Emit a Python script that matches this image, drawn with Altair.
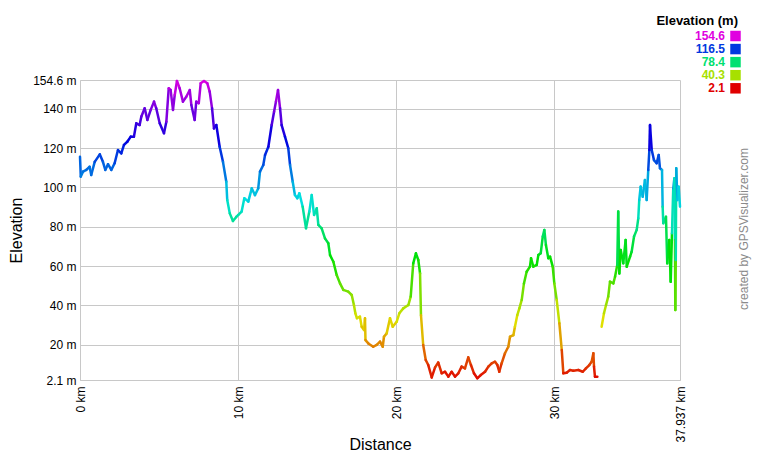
import altair as alt
import pandas as pd

# ---- data ----
SEG1_KM = [0.00, 0.05, 0.19, 0.40, 0.61, 0.71, 0.93, 1.25, 1.45, 1.60, 1.77, 1.98, 2.19, 2.40, 2.61,
           2.78, 2.99, 3.21, 3.41, 3.56, 3.77, 3.88, 4.09, 4.26, 4.47, 4.68, 4.82, 5.04, 5.31, 5.46,
           5.61, 5.73, 5.88, 5.99, 6.13, 6.30, 6.51, 6.72, 6.94, 7.04, 7.25, 7.35, 7.51, 7.63, 7.84,
           8.05, 8.20, 8.35, 8.47, 8.62, 8.83, 9.04, 9.25, 9.31, 9.47, 9.67, 9.88, 10.01, 10.22, 10.39,
           10.64, 10.86, 11.06, 11.27, 11.38, 11.59, 11.70, 11.91, 12.12, 12.27, 12.39, 12.52, 12.65,
           12.75, 12.96, 13.17, 13.28, 13.45, 13.59, 13.74, 13.87, 14.08, 14.29, 14.50, 14.65, 14.80,
           14.97, 15.07, 15.28, 15.49, 15.70, 15.81, 16.02, 16.23, 16.44, 16.65, 16.96, 17.18, 17.32,
           17.41, 17.51, 17.70, 17.81, 17.96, 18.02, 18.05, 18.23, 18.54, 18.76, 18.97, 19.14, 19.22,
           19.39, 19.60, 19.77, 20.02, 20.19, 20.44, 20.76, 20.91, 21.07, 21.24, 21.39, 21.50, 21.56,
           21.70, 21.86, 22.02, 22.24, 22.45, 22.65, 22.87, 23.08, 23.29, 23.50, 23.71, 23.92, 24.13,
           24.34, 24.55, 24.72, 24.91, 25.12, 25.34, 25.61, 25.82, 26.03, 26.24, 26.39, 26.51, 26.66,
           26.87, 27.08, 27.19, 27.40, 27.50, 27.65, 27.78, 27.93, 28.07, 28.24, 28.45, 28.52, 28.66,
           28.88, 28.98, 29.13, 29.26, 29.36, 29.46, 29.61, 29.72, 29.89, 29.99, 30.14, 30.31, 30.46,
           30.56, 30.77, 30.98, 31.19, 31.51, 31.79, 31.99, 32.20, 32.35, 32.46, 32.50, 32.56, 32.71]
SEG1_M = [115.6, 105.5, 108.0, 108.9, 110.5, 106.3, 113.0, 116.8, 113.0, 108.9, 111.8, 108.9, 112.3, 119.0, 117.3,
          121.6, 123.2, 125.8, 125.8, 132.6, 131.7, 136.0, 140.2, 134.3, 139.4, 143.6, 140.2, 132.6, 127.5, 133.4,
          150.4, 149.5, 139.4, 147.0, 154.1, 150.4, 143.6, 146.1, 149.5, 141.9, 134.3, 143.6, 142.8, 152.9, 154.1,
          152.9, 148.7, 140.2, 130.0, 131.7, 120.7, 113.0, 102.9, 93.6, 86.8, 82.9, 85.0, 86.0, 87.7, 94.5,
          92.8, 99.5, 96.1, 99.5, 108.0, 111.4, 116.5, 120.7, 131.7, 138.5, 143.6, 149.5, 140.2,
          131.7, 125.8, 119.9, 111.4, 102.9, 96.1, 94.5, 97.0, 90.2, 79.2, 87.7, 96.1, 86.0,
          89.4, 80.9, 79.2, 74.1, 71.6, 65.6, 62.2, 55.5, 51.2, 47.9, 47.0, 45.3, 40.2,
          36.0, 33.5, 34.3, 29.2, 27.5, 33.5, 22.4, 20.7, 19.0, 19.9, 21.6, 19.0, 24.1,
          25.8, 33.5, 29.2, 31.7, 36.0, 38.5, 40.2, 44.5, 61.4, 66.5, 63.1, 56.3, 35.0,
          19.9, 12.3, 9.7, 3.4, 8.5, 11.0, 5.5, 6.3, 3.8, 6.3, 3.8, 5.5, 8.9,
          8.0, 13.6, 9.7, 5.5, 3.0, 4.6, 6.3, 8.9, 10.6, 11.4, 9.7, 6.3, 10.6,
          15.7, 19.0, 24.1, 24.9, 29.2, 35.1, 38.5, 42.8, 51.2, 57.1, 59.7, 64.0, 59.7,
          60.6, 65.6, 66.5, 75.0, 78.4, 70.7, 64.0, 64.8, 59.7, 51.2, 42.8, 30.9, 17.4,
          5.5, 5.8, 7.2, 6.8, 7.2, 6.3, 8.0, 9.7, 11.4, 15.7, 8.9, 3.8, 3.8]

SEG2_KM = [32.98, 33.13, 33.26, 33.40, 33.51, 33.72, 33.83, 33.97, 34.03, 34.10, 34.19, 34.35, 34.50, 34.57,
           34.78, 34.88, 35.03, 35.20, 35.30, 35.36, 35.45, 35.58, 35.72, 35.83, 35.93, 36.00, 36.04, 36.15,
           36.29, 36.46, 36.59, 36.67, 36.80, 36.84, 36.88, 37.05, 37.13, 37.26, 37.35, 37.43, 37.51, 37.58,
           37.62, 37.64, 37.67, 37.70, 37.77, 37.85, 37.937]
SEG2_M = [29.2, 36.0, 40.2, 44.5, 52.1, 51.2, 54.6, 60.6, 87.7, 56.3, 68.2, 61.4, 73.3, 59.7,
          64.8, 67.3, 75.0, 78.4, 84.3, 93.6, 100.4, 95.3, 103.8, 93.6, 108.9, 119.0, 131.7, 119.0,
          113.9, 112.3, 116.5, 109.7, 108.9, 90.2, 81.8, 85.1, 61.4, 73.3, 52.1, 76.7, 99.5, 104.6,
          73.3, 37.7, 63.1, 109.7, 93.6, 100.4, 90.2]

Y_TICKS = [2.1, 20, 40, 60, 80, 100, 120, 140, 154.6]
X_TICKS = [0, 10, 20, 30, 37.937]
LEGEND_VALUES = [154.6, 116.5, 78.4, 40.3, 2.1]
LEGEND_LABELS = ["154.6", "116.5", "78.4", "40.3", "2.1"]
LEGEND_TITLE = "Elevation (m)"
CREDIT = "created by GPSVisualizer.com"

# rainbow hue scale: red (2.1 m) -> magenta (154.6 m)
HUE_COLORS = ["#e00000", "#e07000", "#e0e000", "#70e000", "#00e000", "#00e070",
              "#00e0e0", "#0070e0", "#0000e0", "#7000e0", "#e000e0"]
lo, hi = 2.1, 154.6
HUE_STOPS = [lo + i * (hi - lo) / 10 for i in range(11)]

# ---- build segments ----
rows = []
for kms, ms in [(SEG1_KM, SEG1_M), (SEG2_KM, SEG2_M)]:
    for i in range(len(kms) - 1):
        rows.append({"km": kms[i], "m": ms[i], "km2": kms[i + 1], "m2": ms[i + 1],
                     "c": (ms[i] + ms[i + 1]) / 2})
seg = pd.DataFrame(rows)

FONT = "Liberation Sans"
color_scale = alt.Scale(domain=HUE_STOPS, range=HUE_COLORS, interpolate="rgb")

xscale = alt.Scale(domain=[0, 37.937], nice=False, zero=False)
yscale = alt.Scale(domain=[2.1, 154.6], nice=False, zero=False)

line = alt.Chart(seg).mark_rule(strokeWidth=2.5, strokeCap="round").encode(
    x=alt.X("km:Q", scale=xscale, title="Distance",
            axis=alt.Axis(values=X_TICKS, labelExpr="datum.value + ' km'", labelAngle=270,
                          labelFlush=False, labelOverlap=False, ticks=False, tickSize=0,
                          labelPadding=6, titleY=69, titleBaseline="alphabetic", grid=True)),
    x2="km2:Q",
    y=alt.Y("m:Q", scale=yscale, title="Elevation",
            axis=alt.Axis(values=Y_TICKS, labelExpr="datum.value + ' m'",
                          labelFlush=False, labelOverlap=False, ticks=False, tickSize=0,
                          labelPadding=4, titlePadding=8, grid=True)),
    y2="m2:Q",
    color=alt.Color("c:Q", scale=color_scale, legend=None),
)

leg = pd.DataFrame({"val": LEGEND_VALUES, "label": LEGEND_LABELS})
leg_y = alt.Scale(domain=[2.1, 154.6], range=[8.3, -44])

leg_text = alt.Chart(leg).mark_text(align="right", baseline="middle", fontSize=12,
                                    fontWeight="bold", font=FONT).encode(
    x=alt.value(645),
    y=alt.Y("val:Q", scale=leg_y, axis=None),
    text="label:N",
    color=alt.Color("val:Q", scale=color_scale, legend=None),
)
leg_sq = alt.Chart(leg).mark_square(size=110, opacity=1, filled=True).encode(
    x=alt.value(655.5),
    y=alt.Y("val:Q", scale=leg_y, axis=None),
    color=alt.Color("val:Q", scale=color_scale, legend=None),
)
leg_title = alt.Chart(pd.DataFrame({"t": [LEGEND_TITLE]})).mark_text(
    align="right", baseline="middle", fontSize=13, fontWeight="bold", font=FONT, color="black"
).encode(x=alt.value(658), y=alt.value(-59), text="t:N")

credit = alt.Chart(pd.DataFrame({"t": [CREDIT]})).mark_text(
    align="center", baseline="middle", fontSize=12, font=FONT, color="#8a8a8a", angle=270
).encode(x=alt.value(664), y=alt.value(149), text="t:N")

chart = alt.layer(line, leg_text, leg_sq, leg_title, credit).resolve_scale(
    y="independent"
).properties(
    width=600, height=300,
    autosize=alt.AutoSizeParams(type="none"),
    padding={"left": 72, "top": 72, "right": 72, "bottom": 72},
).configure_view(stroke=None).configure_axis(
    gridColor="#c8c8c8", gridWidth=1, domainColor="#c8c8c8", domainWidth=1,
    labelFont=FONT, labelFontSize=12, labelColor="black",
    titleFont=FONT, titleFontSize=16, titleFontWeight="normal", titleColor="black",
)

chart.save("out.html", embed_options={"renderer": "svg", "actions": False})
